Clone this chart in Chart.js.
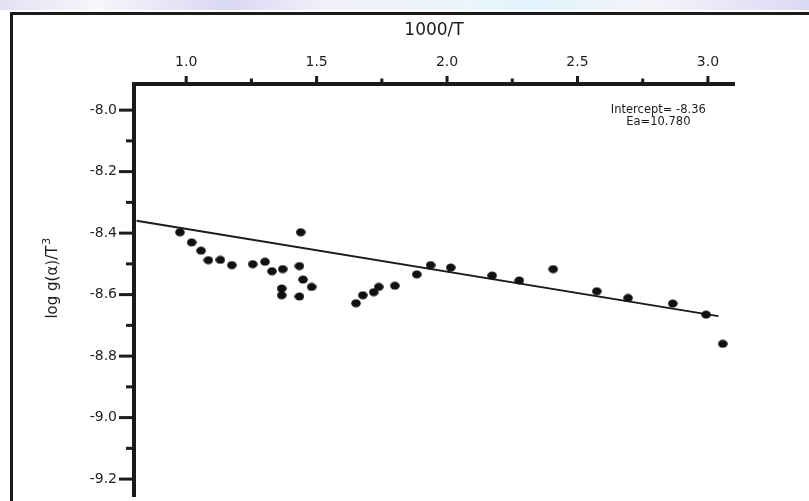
<!DOCTYPE html>
<html>
<head>
<meta charset="utf-8">
<title>log g(α)/T³ vs 1000/T</title>
<script src="https://cdn.jsdelivr.net/npm/chart.js@4.4.1/dist/chart.umd.min.js"></script>
<style>
  html, body { margin: 0; padding: 0; background: #fff; }
  #wrap { position: relative; width: 809px; height: 501px; overflow: hidden; }
  #haze {
    position: absolute; left: 0; top: 0; width: 809px; height: 10px; opacity: .75;
    background: linear-gradient(90deg, #d9d8f0 0%, #f3f3fb 12%, #cdcbee 28%, #ecebf8 40%, #e4f2fb 58%, #d6eef9 66%, #f1f1fa 80%, #cfcdef 100%);
  }
  #frame {
    position: absolute; left: 10px; top: 12px; width: 830px; height: 520px;
    border-left: 3.5px solid #1b1b1b; border-top: 3.5px solid #1b1b1b;
  }
  canvas { position: absolute; left: 0; top: 0; }
</style>
</head>
<body>
<div id="wrap">
  <div id="haze"></div>
  <div id="frame"></div>
  <canvas id="arrhenius" width="809" height="501"></canvas>
</div>
<script>
// measured points: 1000/T against log g(α)/T³
const invT = [0.976, 1.021, 1.057, 1.085, 1.131, 1.175, 1.255, 1.302, 1.329, 1.370, 1.366,
  1.366, 1.439, 1.434, 1.434, 1.448, 1.481, 1.651, 1.677, 1.719, 1.738, 1.800, 1.884,
  1.937, 2.014, 2.173, 2.277, 2.407, 2.574, 2.694, 2.865, 2.993, 3.057];
const logG = [-8.397, -8.430, -8.457, -8.488, -8.487, -8.504, -8.501, -8.493, -8.524, -8.517, -8.580,
  -8.602, -8.397, -8.507, -8.606, -8.551, -8.575, -8.628, -8.602, -8.592, -8.575, -8.571, -8.534,
  -8.504, -8.512, -8.538, -8.554, -8.517, -8.589, -8.611, -8.629, -8.665, -8.760];

// least-squares line, ends
const fitX = [0.81, 3.04];
const fitY = [-8.36, -8.67];
const fitNotes = ["Intercept= -8.36", "Ea=10.780"];

const xMajor = [1.0, 1.5, 2.0, 2.5, 3.0];
const xMinor = [1.25, 1.75, 2.25, 2.75];
const yMajor = [-8.0, -8.2, -8.4, -8.6, -8.8, -9.0, -9.2];
const yMinor = [-8.1, -8.3, -8.5, -8.7, -8.9, -9.1];

const ink = "#1b1b1b";
const face = "'DejaVu Sans', 'Liberation Sans', sans-serif";

// slightly flattened dot like the scanned markers
function makeDot(){
  const c = document.createElement("canvas");
  c.width = 10; c.height = 9;
  const g = c.getContext("2d");
  g.fillStyle = "#111";
  g.beginPath();
  g.ellipse(5, 4.5, 4.8, 4.0, 0, 0, Math.PI * 2);
  g.fill();
  return c;
}

// tick marks (long majors, short minors), rotated y title and the fit note
const axisMarks = {
  id: "axisMarks",
  afterDraw(chart){
    const { ctx, chartArea: a, scales: { x, y } } = chart;
    const seg = (x1, y1, x2, y2) => { ctx.beginPath(); ctx.moveTo(x1, y1); ctx.lineTo(x2, y2); ctx.stroke(); };
    ctx.save();
    ctx.strokeStyle = ink;
    ctx.lineWidth = 3;
    xMajor.forEach(v => { const px = x.getPixelForValue(v); seg(px, a.top - 8, px, a.top + 2); });
    xMinor.forEach(v => { const px = x.getPixelForValue(v); seg(px, a.top - 5.5, px, a.top); });
    yMajor.forEach(v => { const py = y.getPixelForValue(v); seg(a.left - 15, py, a.left, py); });
    yMinor.forEach(v => { const py = y.getPixelForValue(v); seg(a.left - 8, py, a.left, py); });

    ctx.fillStyle = ink;
    ctx.textBaseline = "middle";

    // y title, written bottom-up with a raised 3
    ctx.save();
    ctx.translate(53, a.top + (a.bottom - a.top) * 0.47);
    ctx.rotate(-Math.PI / 2);
    ctx.font = `15px ${face}`;
    const base = "log g(α)/T";
    const w = ctx.measureText(base).width;
    ctx.textAlign = "left";
    ctx.fillText(base, -(w + 9) / 2, 0);
    ctx.font = `11px ${face}`;
    ctx.fillText("3", -(w + 9) / 2 + w + 1, -6);
    ctx.restore();

    ctx.textAlign = "center";
    ctx.font = `11.5px ${face}`;
    const nx = x.getPixelForValue(2.81);
    const ny = y.getPixelForValue(-8.0);
    fitNotes.forEach((t, i) => ctx.fillText(t, nx, ny + i * 11.5));
    ctx.restore();
  }
};

const points = invT.map((v, i) => ({ x: v, y: logG[i] }));
const fitLine = fitX.map((v, i) => ({ x: v, y: fitY[i] }));

new Chart(document.getElementById("arrhenius"), {
  type: "scatter",
  data: {
    datasets: [
      { data: points, pointStyle: makeDot(), pointRadius: 4, order: 1 },
      { type: "line", data: fitLine, showLine: true, borderColor: ink, borderWidth: 2,
        pointRadius: 0, fill: false, order: 2 },
    ],
  },
  options: {
    responsive: false,
    animation: false,
    events: [],
    layout: { padding: { left: 0, top: 0, right: 75, bottom: 0 } },
    plugins: { legend: { display: false }, tooltip: { enabled: false } },
    scales: {
      x: {
        type: "linear",
        position: "top",
        min: 0.8,
        max: 3.1,
        afterBuildTicks: s => { s.ticks = xMajor.map(v => ({ value: v })); },
        afterFit: s => { s.height = 84; s.paddingLeft = 0; s.paddingRight = 0; },
        grid: { display: true, drawOnChartArea: false, drawTicks: false },
        border: { display: true, color: ink, width: 4 },
        ticks: { padding: 13, color: "#1e1e1e", font: { family: face, size: 14 }, callback: v => v.toFixed(1) },
        title: { display: true, text: "1000/T", color: ink, font: { family: face, size: 17 }, padding: { top: 20, bottom: 0 } },
      },
      y: {
        type: "linear",
        min: -9.255,
        max: -7.915,
        afterBuildTicks: s => { s.ticks = yMajor.map(v => ({ value: v })); },
        afterFit: s => { s.width = 134; s.paddingTop = 0; s.paddingBottom = 0; },
        grid: { display: true, drawOnChartArea: false, drawTicks: false },
        border: { display: true, color: ink, width: 4 },
        ticks: { padding: 17, color: "#1e1e1e", font: { family: face, size: 14 }, callback: v => v.toFixed(1) },
      },
    },
  },
  plugins: [axisMarks],
});
</script>
</body>
</html>
